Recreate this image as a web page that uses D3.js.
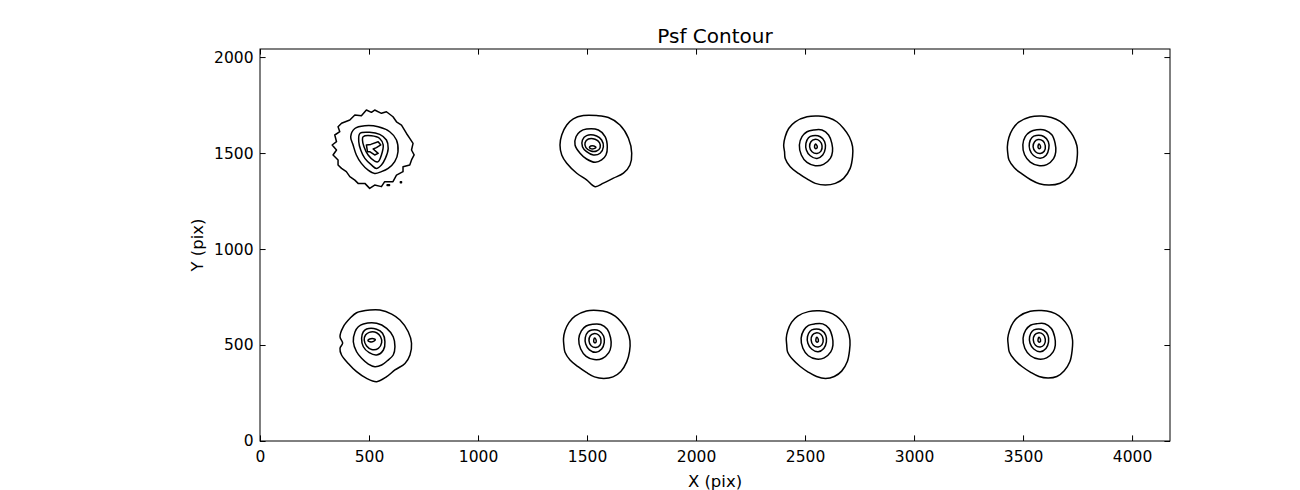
<!DOCTYPE html>
<html><head><meta charset="utf-8">
<script src="https://cdn.jsdelivr.net/npm/d3@7"></script>
<style>body{margin:0;background:#fff}svg{display:block}text{font-family:"DejaVu Sans",sans-serif}</style>
</head><body><svg id="c" width="1300" height="490"></svg>
<script>
// ---- data ----
const title = "Psf Contour";
const xLabel = "X (pix)";
const yLabel = "Y (pix)";
const xDomain = [0, 4174];
const yDomain = [0, 2042];
const xTicks = [0,500,1000,1500,2000,2500,3000,3500,4000];
const yTicks = [0,500,1000,1500,2000];

// PSF centres (data units)
const psfCentersX = [505, 1526, 2550, 3575, 512, 1537, 2556, 3575];
const psfCentersY = [1533, 1530, 1533, 1533, 526, 522, 526, 526];

// contour rings: offsets from the centre in data units, outermost first
const psf1Rings = [
 [[-131,122],[-93,139],[-70,165],[-40,161],[-17,191],[6,179],[21,191],[52,174],[75,182],[105,156],[121,130],[144,113],[167,69],[182,43],[197,17],[190,-17],[202,-43],[190,-69],[182,-95],[151,-104],[151,-130],[121,-148],[105,-182],[67,-182],[52,-208],[21,-200],[-2,-217],[-24,-191],[-55,-191],[-70,-174],[-93,-156],[-109,-130],[-131,-113],[-147,-95],[-147,-69],[-170,-43],[-154,-17],[-174,9],[-154,26],[-162,61],[-139,78],[-147,104]],
 [[-70,95],[-24,109],[37,104],[90,78],[121,35],[128,-26],[113,-78],[83,-113],[52,-130],[21,-139],[-9,-122],[-40,-87],[-63,-43],[-78,9],[-89,52]],
 [[-47,69],[-2,75],[44,64],[75,35],[83,-9],[70,-61],[52,-95],[29,-113],[6,-95],[-24,-61],[-43,-17],[-52,26]],
 [[-32,52],[6,57],[44,43],[60,9],[52,-43],[37,-78],[21,-75],[-9,-43],[-28,0],[-35,35]],
 [[-17,9],[3,12],[37,26],[49,9],[29,-5],[14,-12],[37,-35],[21,-43],[-2,-26],[-12,-26]],
 [[78,-198],[89,-198],[89,-202],[78,-202]],
 [[139,-183],[144,-183],[144,-188],[139,-188]]
];
const psf2Rings = [
 [[-89,148],[-43,165],[18,165],[72,155],[125,116],[164,47],[179,-31],[171,-92],[141,-135],[95,-161],[49,-187],[11,-205],[-28,-170],[-73,-135],[-119,-83],[-142,-40],[-150,12],[-142,64],[-119,116]],
 [[-58,82],[-28,95],[26,90],[57,56],[67,3],[61,-40],[41,-66],[11,-78],[-28,-61],[-58,-31],[-81,12],[-76,56]],
 [[-28,61],[18,59],[41,38],[49,3],[34,-31],[3,-40],[-28,-23],[-47,3],[-47,38]],
 [[-20,43],[11,42],[31,24],[34,-2],[18,-19],[-9,-19],[-31,-2],[-35,24]],
 [[-15,0],[-9,7],[6,7],[15,0],[6,-7],[-9,-7]]
];
const psf3Rings = [
 [[-41,156],[12,160],[58,151],[96,130],[127,95],[153,52],[168,0],[168,-52],[157,-113],[127,-165],[89,-191],[43,-200],[-3,-191],[-41,-168],[-80,-139],[-118,-104],[-141,-61],[-144,-26],[-148,9],[-141,52],[-125,95],[-95,130]],
 [[-11,87],[28,87],[58,61],[73,17],[76,-26],[66,-61],[35,-92],[-3,-99],[-41,-82],[-67,-43],[-76,9],[-64,52],[-41,78]],
 [[-15,57],[20,52],[40,26],[43,-9],[31,-43],[5,-61],[-26,-47],[-44,-17],[-46,17],[-34,47]],
 [[-6,38],[17,30],[28,5],[23,-23],[5,-35],[-18,-26],[-29,0],[-23,26]],
 [[-2,14],[6,2],[3,-9],[-5,-7],[-6,5]]
];
const psf4Rings = [
 [[-43,155],[10,160],[55,152],[95,132],[128,98],[155,55],[172,5],[174,-45],[165,-105],[135,-160],[95,-190],[45,-200],[0,-193],[-40,-172],[-80,-142],[-115,-110],[-140,-68],[-145,-35],[-147,0],[-140,48],[-123,92],[-95,128]],
 [[-12,88],[26,86],[57,62],[72,18],[75,-27],[65,-62],[34,-93],[-4,-98],[-42,-80],[-68,-42],[-76,10],[-65,53],[-42,78]],
 [[-15,58],[20,53],[41,26],[43,-10],[31,-44],[4,-60],[-27,-46],[-44,-16],[-46,18],[-34,48]],
 [[-6,37],[16,30],[27,5],[22,-24],[4,-35],[-18,-26],[-29,0],[-22,26]],
 [[-2,14],[5,2],[3,-9],[-5,-7],[-6,5]]
];
const psf5Rings = [
 [[-69,142],[-8,156],[38,156],[92,135],[130,104],[168,43],[183,-17],[176,-78],[153,-122],[107,-156],[69,-191],[23,-217],[-23,-200],[-69,-165],[-107,-122],[-138,-78],[-145,-43],[-133,-17],[-145,17],[-130,69],[-99,113]],
 [[-61,69],[-38,83],[23,87],[69,61],[99,17],[107,-35],[99,-78],[72,-108],[46,-130],[15,-139],[-15,-125],[-46,-95],[-69,-61],[-84,-9],[-76,43]],
 [[-23,57],[23,56],[50,35],[61,-9],[54,-52],[23,-78],[-11,-66],[-38,-35],[-46,9],[-38,43]],
 [[-11,40],[23,38],[41,17],[46,-14],[31,-43],[0,-49],[-23,-31],[-34,0],[-28,26]],
 [[-17,-2],[-9,5],[8,7],[17,2],[9,-7],[-8,-9]]
];
const psf6Rings = [
 [[-40,155],[12,158],[55,150],[92,128],[122,95],[148,50],[160,0],[158,-55],[145,-110],[118,-160],[82,-188],[40,-196],[-3,-188],[-40,-165],[-78,-135],[-115,-100],[-138,-60],[-143,-25],[-145,10],[-138,52],[-120,95],[-92,128]],
 [[-12,86],[26,85],[56,60],[71,16],[73,-27],[63,-62],[33,-92],[-4,-98],[-41,-81],[-66,-43],[-75,9],[-63,52],[-41,77]],
 [[-15,56],[19,52],[39,25],[42,-10],[30,-43],[4,-60],[-26,-47],[-43,-17],[-45,17],[-33,46]],
 [[-6,37],[16,30],[27,5],[22,-23],[4,-35],[-18,-26],[-28,0],[-22,26]],
 [[-2,14],[5,2],[3,-9],[-5,-7],[-6,5]]
];
const psf7Rings = [
 [[-40,148],[10,152],[52,145],[88,125],[118,92],[140,50],[150,0],[148,-55],[138,-112],[112,-162],[78,-190],[38,-200],[-3,-190],[-40,-168],[-78,-138],[-112,-102],[-136,-62],[-140,-25],[-142,10],[-135,50],[-118,92],[-90,125]],
 [[-12,84],[25,84],[54,60],[69,16],[72,-27],[62,-62],[32,-93],[-4,-99],[-41,-82],[-66,-43],[-74,9],[-62,51],[-40,76]],
 [[-15,56],[19,51],[39,25],[42,-10],[30,-44],[4,-61],[-26,-47],[-43,-17],[-45,17],[-33,46]],
 [[-6,37],[16,30],[27,5],[22,-24],[4,-36],[-18,-27],[-28,0],[-22,26]],
 [[-2,14],[5,2],[3,-10],[-5,-8],[-6,5]]
];
const psf8Rings = [
 [[-42,150],[10,154],[54,146],[90,126],[120,92],[142,50],[152,0],[150,-55],[140,-112],[114,-160],[80,-190],[40,-198],[-2,-190],[-40,-168],[-80,-138],[-115,-102],[-138,-62],[-143,-25],[-145,10],[-137,50],[-120,92],[-92,125]],
 [[-12,85],[25,85],[55,60],[70,16],[73,-27],[63,-62],[33,-93],[-4,-99],[-41,-82],[-67,-43],[-75,9],[-63,51],[-41,77]],
 [[-15,56],[19,51],[39,25],[42,-10],[30,-44],[4,-61],[-26,-47],[-43,-17],[-45,17],[-33,46]],
 [[-6,37],[16,30],[27,5],[22,-24],[4,-36],[-18,-27],[-28,0],[-22,26]],
 [[-2,14],[5,2],[3,-10],[-5,-8],[-6,5]]
];
const psfRings = [psf1Rings, psf2Rings, psf3Rings, psf4Rings, psf5Rings, psf6Rings, psf7Rings, psf8Rings];

// ---- layout ----
const L = 260, R = 1170, T = 49, B = 441;
const svg = d3.select("#c");
const x = d3.scaleLinear().domain(xDomain).range([L, R]);
const y = d3.scaleLinear().domain(yDomain).range([B, T]);
const tickLen = 5.6, fs = 15.5;

// contours
const g = svg.append("g");
psfRings.forEach((rings, i) => {
  const cx = psfCentersX[i], cy = psfCentersY[i];
  rings.forEach((ring, j) => {
    const jagged = (i === 0 && (j === 0 || j === 4)) || ring.length <= 4;
    const line = d3.line()
      .x(d => x(cx + d[0])).y(d => y(cy + d[1]))
      .curve(jagged ? d3.curveLinearClosed : d3.curveCatmullRomClosed.alpha(0.5));
    g.append("path").attr("d", line(ring))
      .attr("fill", "none").attr("stroke", "#000")
      .attr("stroke-width", 1.5).attr("stroke-linejoin", "round");
  });
});

// axes
function styleAxis(sel, labels) {
  sel.select(".domain").remove();
  sel.selectAll(".tick line").attr("stroke", "#000").attr("stroke-width", 1);
  sel.selectAll("text").attr("fill", "#000").style("font-size", fs + "px")
     .style("font-family", '"DejaVu Sans", sans-serif');
  if (!labels) sel.selectAll("text").remove();
}
svg.append("g").attr("transform", `translate(0,${B})`)
  .call(d3.axisBottom(x).tickValues(xTicks).tickSize(-tickLen).tickPadding(9.5).tickFormat(d3.format("d")))
  .call(s => styleAxis(s, true));
svg.append("g").attr("transform", `translate(0,${T})`)
  .call(d3.axisTop(x).tickValues(xTicks).tickSize(-tickLen))
  .call(s => styleAxis(s, false));
svg.append("g").attr("transform", `translate(${L},0)`)
  .call(d3.axisLeft(y).tickValues(yTicks).tickSize(-tickLen).tickPadding(6.5).tickFormat(d3.format("d")))
  .call(s => styleAxis(s, true));
svg.append("g").attr("transform", `translate(${R},0)`)
  .call(d3.axisRight(y).tickValues(yTicks).tickSize(-tickLen))
  .call(s => styleAxis(s, false));

svg.append("rect").attr("x", L).attr("y", T).attr("width", R - L).attr("height", B - T)
  .attr("fill", "none").attr("stroke", "#000").attr("stroke-width", 1);

// labels
svg.append("text").attr("x", (L + R) / 2).attr("y", 43).attr("text-anchor", "middle")
  .style("font-size", "20px").text(title);
svg.append("text").attr("x", (L + R) / 2).attr("y", 487).attr("text-anchor", "middle")
  .style("font-size", "16.5px").text(xLabel);
svg.append("text").attr("transform", `translate(203,${(T + B) / 2}) rotate(-90)`)
  .attr("text-anchor", "middle").style("font-size", "16.5px").text(yLabel);
</script></body></html>
